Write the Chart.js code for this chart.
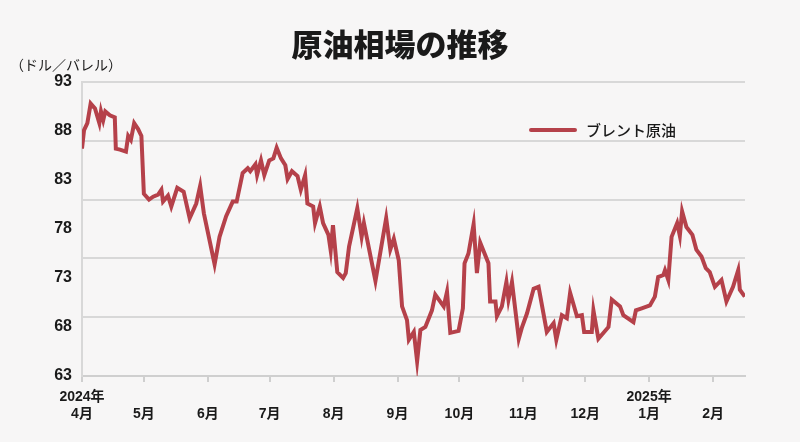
<!DOCTYPE html>
<html><head><meta charset="utf-8">
<script src="https://cdn.jsdelivr.net/npm/chart.js@4"></script>
<style>
body{margin:0;background:#f7f6f6;}
#wrap{width:800px;height:442px;}
</style></head>
<body><div id="wrap"><canvas id="c"></canvas></div>
<script>
// day index counted from 2024-04-01
const days = [0,1,2.6,4.2,6.3,8.4,9.2,10.3,11.3,13.5,15.9,16.4,18.4,21.3,22.4,23.7,25.3,27.2,28.8,30,32.5,34.5,36.9,38.5,39.3,41.7,43.3,46.2,49.3,52.2,55.4,57.3,59.1,64.3,66.7,69.9,73.1,75,77.9,80.4,81.6,84.1,84.9,86.8,88.4,90.8,92.8,94.4,96.5,98.6,99.7,101.8,104.5,106.1,108.2,109.3,112.1,113,115.3,116.9,119.5,120.6,121.7,123.8,126.6,127.9,129.5,133.5,135.6,136.7,142.3,147.5,149.5,151.2,153.6,155.2,157.6,158.5,160.9,162.5,164.1,166.5,169.7,171.3,175.4,177,178.6,182.6,184.7,185.5,187.4,189.9,191.5,193.1,197.1,197.9,200.5,201.2,203.6,205.8,206.8,208.5,211.8,213.4,215.8,219,221.4,225.4,228.7,230,232.7,235.1,236.7,240,242.4,243.5,247.2,248,250.4,255.3,256.9,260.9,262.5,267.4,268.6,271.4,275.4,277.8,279.4,281.9,282.7,284.3,285.9,288.6,289.9,291,293.1,296,297.9,300.4,302.5,304.4,306.9,310.1,312.5,315.7,318.2,319,321.4];
const brent = [86.2,88.1,88.8,90.8,90.3,88.8,90.0,89.1,90.0,89.6,89.4,86.2,86.1,85.9,87.5,87.1,88.8,88.2,87.5,81.6,81.0,81.3,81.5,82.0,80.8,81.4,80.3,82.2,81.8,79.1,80.6,82.4,79.6,74.4,77.2,79.3,80.8,80.8,83.7,84.2,83.9,84.6,83.5,85.0,83.5,85.0,85.2,86.3,85.2,84.5,83.1,83.9,83.4,82.0,83.5,80.6,80.3,78.6,80.3,78.6,77.4,75.8,78.4,73.6,73.0,73.5,76.2,80.1,77.2,78.6,72.7,79.1,75.9,77.0,74.8,70.1,68.7,66.7,67.5,64.5,67.7,68.0,69.7,71.3,70.1,71.6,67.4,67.6,69.9,74.5,75.5,78.5,73.5,76.6,74.5,70.6,70.6,69.1,70.1,72.6,70.8,72.6,66.8,68.0,69.4,71.9,72.1,67.5,68.4,66.7,69.2,68.9,71.5,69.1,69.2,67.5,67.5,69.7,66.8,68.0,70.8,70.1,69.2,68.5,69.7,69.9,70.2,71.1,73.1,73.3,73.8,72.8,77.2,78.6,77.3,79.8,78.2,77.4,75.9,75.2,74.0,73.6,72.1,72.8,70.6,72.1,73.8,71.8,71.1];
const monthDays = [0,30,61,91,122,153,183,214,244,275,306];
const monthLabels = [['2024年','4月'],['','5月'],['','6月'],['','7月'],['','8月'],['','9月'],['','10月'],['','11月'],['','12月'],['2025年','1月'],['','2月']];
const seriesName = 'ブレント原油';
const lineColor = '#b5414a';

const decor = {
  id: 'decor',
  afterDraw(chart) {
    const ctx = chart.ctx;
    ctx.save();
    ctx.fillStyle = '#1a1a1a';
    ctx.textAlign = 'center';
    ctx.textBaseline = 'middle';
    ctx.font = '900 31px "Noto Sans CJK JP"';
    ctx.fillText('原油相場の推移', 400, 44);
    ctx.textAlign = 'left';
    ctx.font = '14px "Noto Sans CJK JP"';
    ctx.fillText('（ドル／バレル）', 10, 65);
    ctx.strokeStyle = lineColor;
    ctx.lineWidth = 4;
    ctx.lineCap = 'round';
    ctx.beginPath(); ctx.moveTo(531, 130); ctx.lineTo(575, 130); ctx.stroke();
    ctx.font = '500 15px "Noto Sans CJK JP"';
    ctx.fillText(seriesName, 586, 130);
    ctx.restore();
  }
};

new Chart(document.getElementById('c'), {
  type: 'line',
  data: { datasets: [{ label: seriesName, data: days.map((d, i) => ({ x: d, y: brent[i] })),
    borderColor: lineColor, borderWidth: 4, pointRadius: 0, tension: 0 }] },
  options: {
    responsive: true, maintainAspectRatio: false, animation: false,
    layout: { padding: { top: 82, right: 55, left: 0, bottom: 0 } },
    plugins: { legend: { display: false }, tooltip: { enabled: false } },
    scales: {
      x: {
        type: 'linear', min: 0, max: 321.5,
        afterBuildTicks: a => { a.ticks = monthDays.map(v => ({ value: v })); },
        afterFit: a => { a.height = 66; },
        ticks: { autoSkip: false, maxRotation: 0, padding: 7, color: '#1a1a1a',
          font: { family: 'Liberation Sans, "Noto Sans CJK JP"', size: 14, weight: 'bold' },
          callback: v => monthLabels[monthDays.indexOf(v)] },
        grid: { drawOnChartArea: false, color: '#cfcfcf', tickLength: 6, lineWidth: 2 },
        border: { color: '#cfcfcf', width: 2 }
      },
      y: {
        min: 63, max: 93,
        afterBuildTicks: a => { a.ticks = []; for (let v = 63; v <= 93; v++) a.ticks.push({ value: v }); },
        afterFit: a => { a.width = 82; },
        ticks: { autoSkip: false, padding: 10, color: '#1a1a1a',
          font: { family: 'Liberation Sans', size: 16, weight: 'bold' },
          callback: v => ((v - 63) % 5 === 0 ? String(v) : '') },
        grid: { drawTicks: false, lineWidth: 2,
          color: c => ((c.tick.value - 63) % 6 === 0 ? '#d8d8d8' : 'rgba(0,0,0,0)') },
        border: { color: '#d8d8d8', width: 2 }
      }
    }
  },
  plugins: [decor]
});
</script></body></html>
